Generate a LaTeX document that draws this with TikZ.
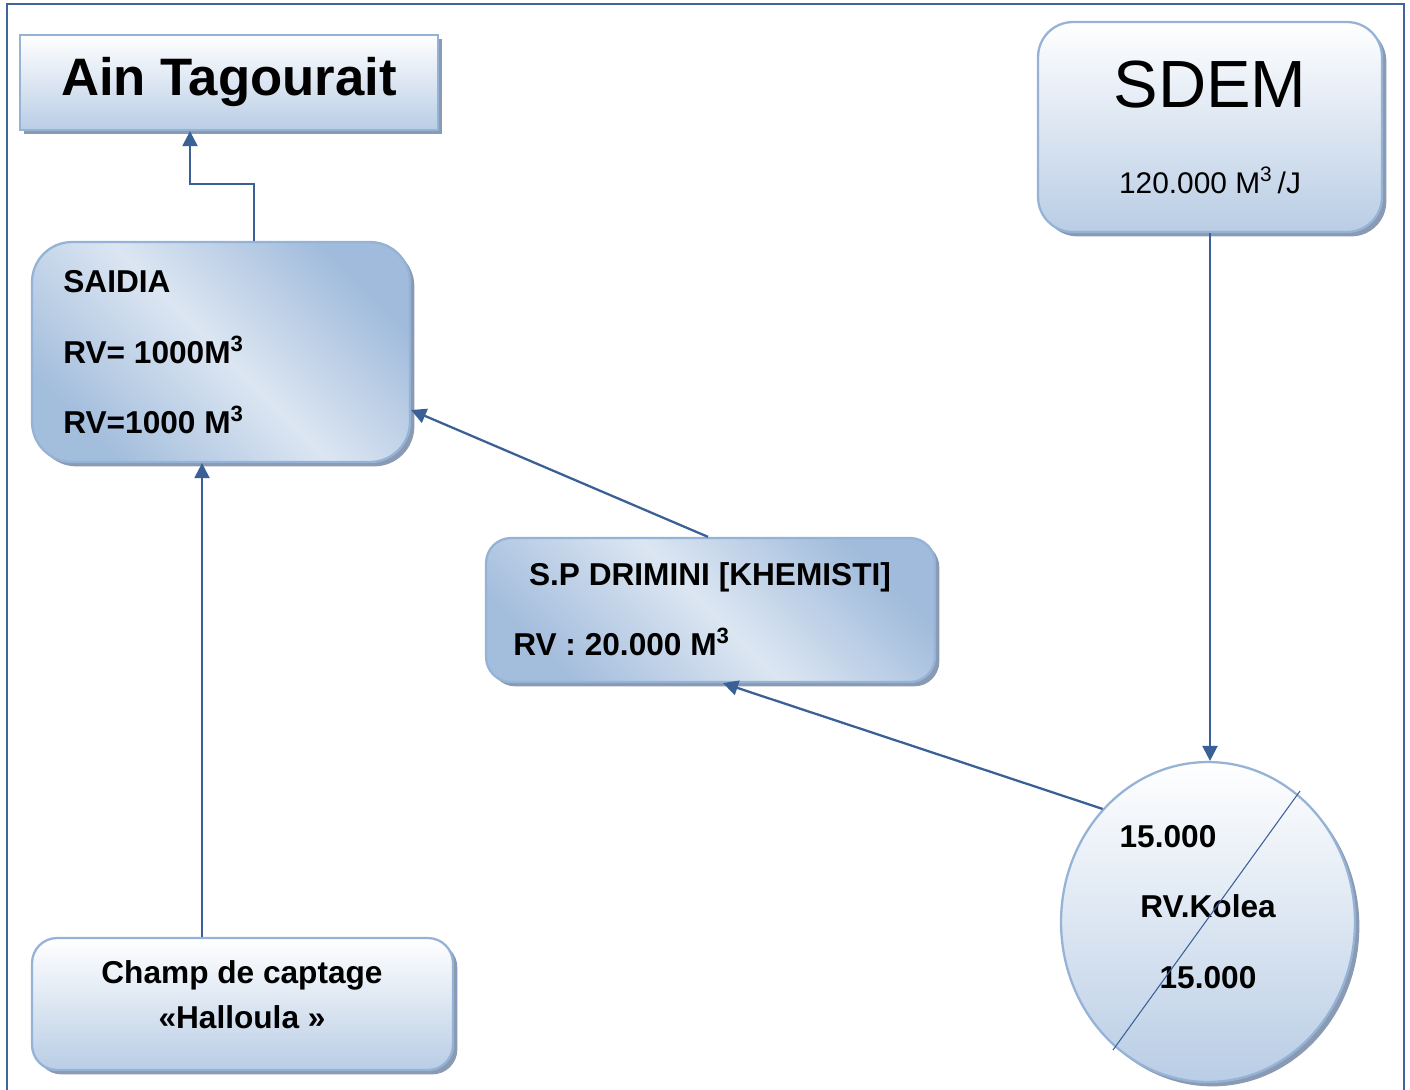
\documentclass[tikz,border=0pt]{standalone}
\usepackage{fontspec}
\setmainfont{Liberation Sans}
\usetikzlibrary{arrows.meta,shadows,shapes.geometric}

\definecolor{frameblue}{HTML}{41659A}
\definecolor{linkblue}{HTML}{3A6096}
\definecolor{edgeblue}{HTML}{95B3D7}
\definecolor{fillblue}{HTML}{B9CDE5}
\definecolor{paleblue}{HTML}{DCE6F2}
\definecolor{shadowblue}{HTML}{8A9AB2}

\newcommand{\cube}{\textsuperscript{3}}

\tikzset{
  box/.style={draw=edgeblue, line width=1.3pt, inner sep=0pt,
    top color=white, bottom color=fillblue,
    drop shadow={shadow xshift=2.5pt, shadow yshift=-2.5pt, fill=shadowblue, opacity=1}},
  diagbox/.style={box, top color=edgeblue!90!white, bottom color=edgeblue!80!paleblue, middle color=paleblue, shading angle=-45},
  txt/.style={inner sep=0pt, anchor=base, font=\bfseries\fontsize{18pt}{22pt}\selectfont},
  flow/.style={draw=linkblue, line width=1.3pt, -{Triangle[length=0.3cm, width=0.3cm]}}
}

\begin{document}
\begin{tikzpicture}[x=0.02cm, y=-0.02cm]
	\useasboundingbox (0,0) rectangle (1410,1089);
	\draw[frameblue, line width=1.3pt] (7,4) rectangle (1404,1100);

	% boxes
	\node[box, minimum width=8.36cm, minimum height=1.9cm] (ain) at (229,82.5) {};
	\node[box, rounded corners=0.7cm, minimum width=6.88cm, minimum height=4.2cm] (sdem) at (1210,127) {};
	\node[diagbox, rounded corners=0.8cm, minimum width=7.56cm, minimum height=4.4cm] (saidia) at (221,352) {};
	\node[diagbox, rounded corners=0.5cm, minimum width=8.98cm, minimum height=2.88cm] (drimini) at (710.5,610) {};
	\node[box, ellipse, minimum width=5.88cm, minimum height=6.4cm] (kolea) at (1208,922) {};
	\node[box, rounded corners=0.5cm, minimum width=8.42cm, minimum height=2.64cm] (champ) at (242.5,1004) {};

	% texts
	\node[txt, font=\bfseries\fontsize{30pt}{36pt}\selectfont] (ainname) at (229,95) {Ain Tagourait};
	\node[txt, font=\fontsize{38pt}{44pt}\selectfont] (sdemname) at (1210,107) {SDEM};
	\node[txt, font=\fontsize{17pt}{20pt}\selectfont] (sdemflow) at (1210,193) {120.000 M\cube\,/J};
	\node[txt, anchor=base west] (saidianame) at (63,292) {SAIDIA};
	\node[txt, anchor=base west] (saidiarv1) at (63,363) {RV= 1000M\cube};
	\node[txt, anchor=base west] (saidiarv2) at (63,433) {RV=1000 M\cube};
	\node[txt] (driminame) at (710,585) {S.P DRIMINI [KHEMISTI]};
	\node[txt, anchor=base west] (drimirv) at (513,655) {RV : 20.000 M\cube};
	\node[txt] (koleaup) at (1168,847) {15.000};
	\node[txt] (koleaname) at (1208,917) {RV.Kolea};
	\node[txt] (koleadown) at (1208,988) {15.000};
	\node[txt] (champname) at (242,983) {Champ de captage};
	\node[txt] (champsub) at (242,1028) {«Halloula »};

	% strike through the reservoir
	\coordinate (strikeA) at (1300,791);
	\coordinate (strikeB) at (1113,1050);
	\draw[linkblue, line width=0.6pt] (strikeA) -- (strikeB);

	% links
	\draw[flow] ([xshift=0.66cm]saidia.north) -- ++(0,1.14cm) -| ([xshift=-0.78cm]ain.south);
	\draw[flow] ([xshift=-0.05cm]drimini.north) -- ([yshift=-1.16cm]saidia.east);
	\draw[flow] (kolea.133) -- ([xshift=0.25cm]drimini.south);
	\draw[flow] (sdem.south) -- (sdem.south |- kolea.north);
	\draw[flow] ([xshift=-0.81cm]champ.north) -- ([xshift=-0.81cm]champ.north |- saidia.south);
\end{tikzpicture}
\end{document}
